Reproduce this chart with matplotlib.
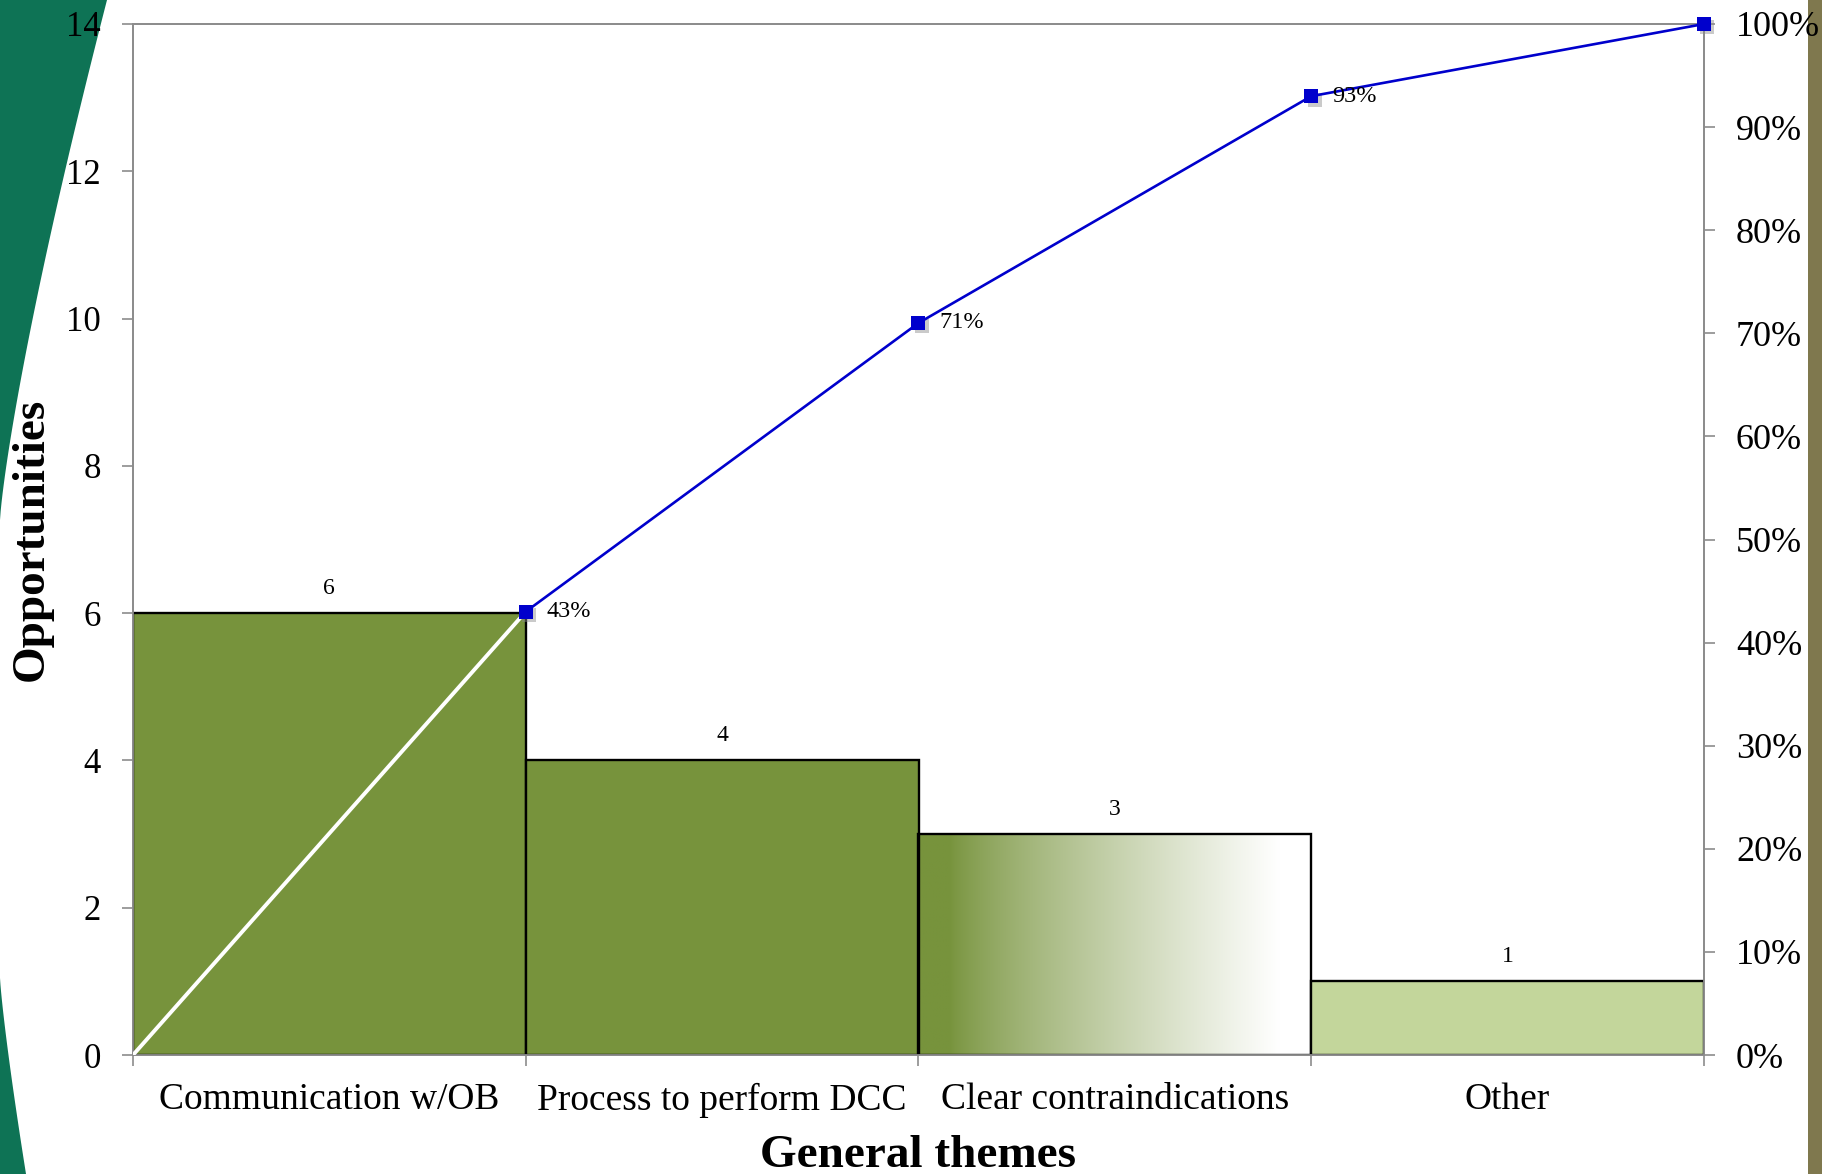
import numpy as np
import matplotlib
matplotlib.use("Agg")
import matplotlib.pyplot as plt
from matplotlib.patches import Polygon, Rectangle
from matplotlib.colors import to_rgb
from matplotlib.transforms import ScaledTranslation

# Pareto data
categories = ["Communication w/OB", "Process to perform DCC", "Clear contraindications", "Other"]
counts = [6, 4, 3, 1]
cum_pct = [43, 71, 93, 100]
left_ticks = [0, 2, 4, 6, 8, 10, 12, 14]
right_ticks = [0, 10, 20, 30, 40, 50, 60, 70, 80, 90, 100]

OLIVE = "#77933c"
LIGHT = "#c3d69b"
BLUE = "#0000cc"
GRAY = "#8c8c8c"
SLIDE_GREEN = "#0e7355"

plt.rcParams["font.family"] = ["Liberation Serif", "DejaVu Serif"]

W, H = 1822, 1174
fig = plt.figure(figsize=(W / 100, H / 100), dpi=100)

# slide decoration layer in pixel coordinates
bg = fig.add_axes([0, 0, 1, 1], zorder=-5)
bg.set_xlim(0, W)
bg.set_ylim(H, 0)
bg.axis("off")
ys = np.linspace(0, 520, 60)
xs = 107 * (1 - ys / 520) ** 1.25
bg.add_patch(Polygon(np.column_stack([np.r_[0, xs], np.r_[0, ys]]), closed=True,
                     facecolor=SLIDE_GREEN, edgecolor="none"))
ys2 = np.linspace(978, H, 30)
xs2 = 26 * ((ys2 - 978) / (H - 978)) ** 1.2
bg.add_patch(Polygon(np.column_stack([np.r_[0, xs2, 0], np.r_[978, ys2, H]]), closed=True,
                     facecolor=SLIDE_GREEN, edgecolor="none"))
bg.add_patch(Rectangle((1808, 0), W - 1808, H, facecolor="#7f784e", edgecolor="none"))

ax = fig.add_axes([133 / W, 1 - 1055 / H, (1704 - 133) / W, (1055 - 24) / H])
ax.set_xlim(0, len(categories))
ax.set_ylim(0, 14)

n = len(categories)
xpos = np.arange(n)
fills = [OLIVE, OLIVE, None, LIGHT]
for i, (x, v, fc) in enumerate(zip(xpos, counts, fills)):
    if fc is None:
        # horizontal olive-to-white gradient fill
        t = np.linspace(0, 1, 256)
        a = np.clip((t - 0.08) / 0.84, 0, 1) ** 0.8
        c0 = np.array(to_rgb(OLIVE))
        row = (1 - a)[:, None] * c0 + a[:, None] * np.ones(3)
        img = np.repeat(row[None, :, :], 4, axis=0)
        ax.imshow(img, extent=[x, x + 1, 0, v], aspect="auto", zorder=2,
                  interpolation="bilinear")
        ax.bar(x, v, width=1, align="edge", fill=False, edgecolor="black",
               linewidth=1.7, zorder=3)
    else:
        ax.bar(x, v, width=1, align="edge", color=fc, edgecolor="black",
               linewidth=1.7, zorder=3)
    ax.annotate(str(v), (x + 0.5, v), xytext=(0, 18), textcoords="offset points",
                ha="center", va="center", fontsize=17, zorder=6)

# cumulative percentage on secondary axis
ax2 = ax.twinx()
ax2.set_ylim(0, 100)
ax2.set_xlim(0, n)
ax2.plot([0, xpos[0] + 1], [0, cum_pct[0]], color="white", linewidth=2.8, zorder=4)
ax2.plot(xpos + 1, cum_pct, color="#8a8a8a", alpha=0.45, linestyle="none", marker="s",
         markersize=10, markeredgewidth=0,
         transform=ax2.transData + ScaledTranslation(2.5 / 72, -2.5 / 72, fig.dpi_scale_trans),
         zorder=4, clip_on=False)
ax2.plot(xpos + 1, cum_pct, color=BLUE, linewidth=1.9, marker="s", markersize=10,
         markeredgewidth=0, zorder=5, clip_on=False)
for x, p in zip(xpos[:-1] + 1, cum_pct[:-1]):
    ax2.annotate(f"{p}%", (x, p), xytext=(15, 0), textcoords="offset points",
                 ha="left", va="center", fontsize=17.5, zorder=6)

# axes styling
for a_ in (ax, ax2):
    for s in a_.spines.values():
        s.set_color(GRAY)
        s.set_linewidth(1.3)

ax.set_yticks(left_ticks)
ax.set_yticklabels([str(t) for t in left_ticks], fontsize=25)
ax.tick_params(axis="y", direction="out", length=8, width=1.2, color=GRAY, pad=15)
ax.set_xticks(np.arange(n + 1))
ax.set_xticklabels([])
ax.set_xticks(xpos + 0.5, minor=True)
ax.set_xticklabels(categories, minor=True, fontsize=27)
ax.tick_params(axis="x", which="major", direction="out", length=8, width=1.2, color=GRAY)
ax.tick_params(axis="x", which="minor", length=0, pad=20)

ax2.set_yticks(right_ticks)
ax2.set_yticklabels([f"{t}%" for t in right_ticks], fontsize=26)
ax2.tick_params(axis="y", direction="out", length=8, width=1.2, color=GRAY, pad=15)

ax.set_ylabel("Opportunities", fontsize=34, fontweight="bold", labelpad=10)
ax.set_xlabel("General themes", fontsize=34, fontweight="bold", labelpad=12)

fig.savefig("out.png", dpi=100)
